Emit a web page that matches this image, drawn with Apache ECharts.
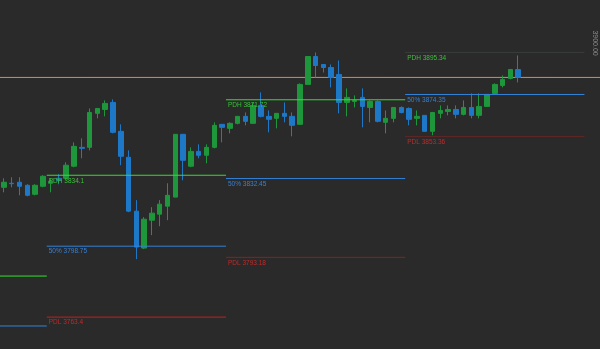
<!DOCTYPE html>
<html>
<head>
<meta charset="utf-8">
<script src="https://cdn.jsdelivr.net/npm/echarts@6/dist/echarts.min.js"></script>
<style>
html,body{margin:0;padding:0;background:#2a2a2a;}
#c{width:600px;height:349px;}
</style>
</head>
<body>
<div id="c"></div>
<script>
// ---- data ----
// hourly candles: [open, close, low, high]
const candles = [
  [3828.1,3830.6,3825.6,3832.6],
  [3830.1,3829.9,3828.1,3833.1],
  [3830.6,3828.6,3824.1,3833.1],
  [3829.1,3824.1,3823.6,3829.6],
  [3824.6,3829.1,3824.1,3829.6],
  [3828.6,3833.6,3828.1,3834.1],
  [3830.1,3831.1,3825.6,3832.6],
  [3832.6,3831.6,3829.6,3834.6],
  [3832.6,3839.1,3831.6,3840.55],
  [3838.6,3848.5,3838.1,3850.5],
  [3848.0,3847.5,3842.55,3852.5],
  [3848.0,3865.4,3846.5,3867.4],
  [3864.95,3867.4,3862.46,3867.4],
  [3866.9,3869.9,3863.45,3871.4],
  [3870.4,3855.49,3855.0,3871.9],
  [3855.99,3843.55,3839.1,3859.47],
  [3843.05,3816.2,3815.7,3846.5],
  [3816.2,3798.3,3792.3,3821.7],
  [3797.8,3812.2,3797.3,3813.2],
  [3811.7,3815.2,3804.25,3818.2],
  [3814.7,3819.7,3808.7,3821.7],
  [3818.7,3824.1,3811.7,3830.1],
  [3823.2,3854.5,3823.2,3854.5],
  [3854.5,3841.55,3831.6,3854.5],
  [3838.6,3846.0,3838.1,3848.0],
  [3846.0,3844.05,3842.55,3849.5],
  [3844.05,3848.0,3840.05,3849.5],
  [3848.0,3858.98,3847.5,3860.47],
  [3859.47,3857.98,3850.5,3859.47],
  [3857.48,3859.97,3855.0,3860.47],
  [3859.97,3863.45,3859.47,3863.45],
  [3863.45,3860.97,3858.98,3865.4],
  [3859.97,3868.9,3859.97,3870.4],
  [3868.9,3863.45,3862.96,3875.39],
  [3863.45,3861.96,3855.49,3866.4],
  [3862.46,3864.95,3857.48,3864.95],
  [3864.95,3863.45,3860.47,3870.4],
  [3863.45,3858.98,3853.5,3865.4],
  [3859.47,3879.37,3859.47,3879.87],
  [3879.37,3893.3,3879.37,3893.3],
  [3893.3,3888.8,3882.86,3895.3],
  [3889.3,3887.8,3885.3,3889.3],
  [3887.8,3882.86,3877.88,3889.3],
  [3884.35,3870.4,3864.95,3891.3],
  [3870.4,3872.9,3863.45,3877.38],
  [3870.9,3871.4,3867.9,3873.9],
  [3872.9,3868.4,3857.98,3877.38],
  [3867.9,3870.9,3860.47,3871.4],
  [3870.9,3860.97,3860.47,3871.4],
  [3860.47,3862.46,3855.0,3866.4],
  [3862.46,3867.9,3860.47,3867.9],
  [3867.9,3865.4,3864.95,3868.4],
  [3867.4,3861.96,3858.98,3867.9],
  [3862.46,3863.45,3858.98,3866.4],
  [3863.95,3855.99,3855.99,3863.95],
  [3855.99,3865.4,3854.0,3865.4],
  [3864.95,3866.4,3862.46,3868.9],
  [3865.9,3866.9,3863.95,3868.9],
  [3866.9,3864.45,3862.46,3868.9],
  [3864.45,3867.9,3863.95,3871.4],
  [3867.9,3863.95,3862.46,3874.9],
  [3863.95,3868.4,3862.46,3874.9],
  [3868.4,3874.4,3868.4,3874.4],
  [3874.9,3879.37,3874.4,3879.87],
  [3878.88,3881.86,3877.88,3883.85],
  [3882.36,3886.8,3881.86,3886.8],
  [3886.8,3882.86,3880.37,3893.8]
];
const totalSlots = 77;           // hourly slots across the view
// previous-day levels per session
const dayStart = [0, 6, 29, 52];
const dayEnd   = [6, 29, 52, 75];
const pdh = [3783.85, 3834.1, 3871.72, 3895.34];
const mid = [3758.97, 3798.75, 3832.45, 3874.35];
const pdl = [3734.09, 3763.4, 3793.18, 3853.36];
const showLabel = [false, true, true, true];
const pdhColors = ['#30e030', '#30e030', '#30e030', '#3a3e3a'];
const midColors = ['#3382d8', '#3382d8', '#3382d8', '#3382d8'];
const pdlColors = ['#c02020', '#c02020', '#8a2222', '#662626'];
const lastPrice = 3882.86;
const axisLabels = [3900];

// ---- chart ----
const categories = [];
for (let i = 0; i < totalSlots; i++) categories.push(String(i));
const ohlcData = categories.map((c, i) => i < candles.length ? candles[i] : '-');

function levelSeries(vals, colors, name, labelColor) {
  return vals.map((v, k) => ({
    type: 'line', xAxisIndex: 1, silent: true, animation: false,
    symbol: 'circle', symbolSize: 1, showSymbol: true,
    itemStyle: { color: 'rgba(0,0,0,0)' },
    lineStyle: { color: colors[k], width: 1 },
    z: 3,
    data: [
      { value: [dayStart[k], v],
        label: { show: showLabel[k], formatter: name + ' ' + v, color: labelColor,
                 position: [2.5, 2.5], fontSize: 6.5, fontFamily: 'Liberation Sans' } },
      { value: [dayEnd[k], v], label: { show: false } }
    ]
  }));
}

const chart = echarts.init(document.getElementById('c'), null, { renderer: 'canvas' });
chart.setOption({
  backgroundColor: '#2a2a2a',
  animation: false,
  grid: { left: -2.2, top: 0.5, width: 602.9, height: 349, containLabel: false },
  xAxis: [
    { type: 'category', data: categories, boundaryGap: true, show: false },
    { type: 'value', min: 0, max: totalSlots, show: false }
  ],
  yAxis: {
    type: 'value', min: 3747.5, max: 3921.2, position: 'right', scale: true,
    axisLine: { show: false }, axisTick: { show: false }, splitLine: { show: false },
    axisLabel: {
      customValues: axisLabels, inside: true, rotate: -90, margin: 2,
      formatter: v => v.toFixed(2), color: '#8a8a8a', fontSize: 7, fontFamily: 'Liberation Sans'
    }
  },
  series: [
    {
      type: 'candlestick', data: ohlcData, barWidth: 5, z: 2,
      itemStyle: { color: '#1e963c', color0: '#1e78c8', borderColor: '#1e963c', borderColor0: '#1e78c8', borderWidth: 1 },
      silent: true
    },
    {
      type: 'line', xAxisIndex: 1, silent: true, animation: false, symbol: 'none', z: 1,
      lineStyle: { color: '#e08a48', width: 1 },
      data: [[0, lastPrice], [totalSlots, lastPrice]]
    }
  ].concat(
    levelSeries(pdh, pdhColors, 'PDH', '#38c238'),
    levelSeries(mid, midColors, '50%', '#3a80d2'),
    levelSeries(pdl, pdlColors, 'PDL', '#c42828')
  )
});
</script>
</body>
</html>
